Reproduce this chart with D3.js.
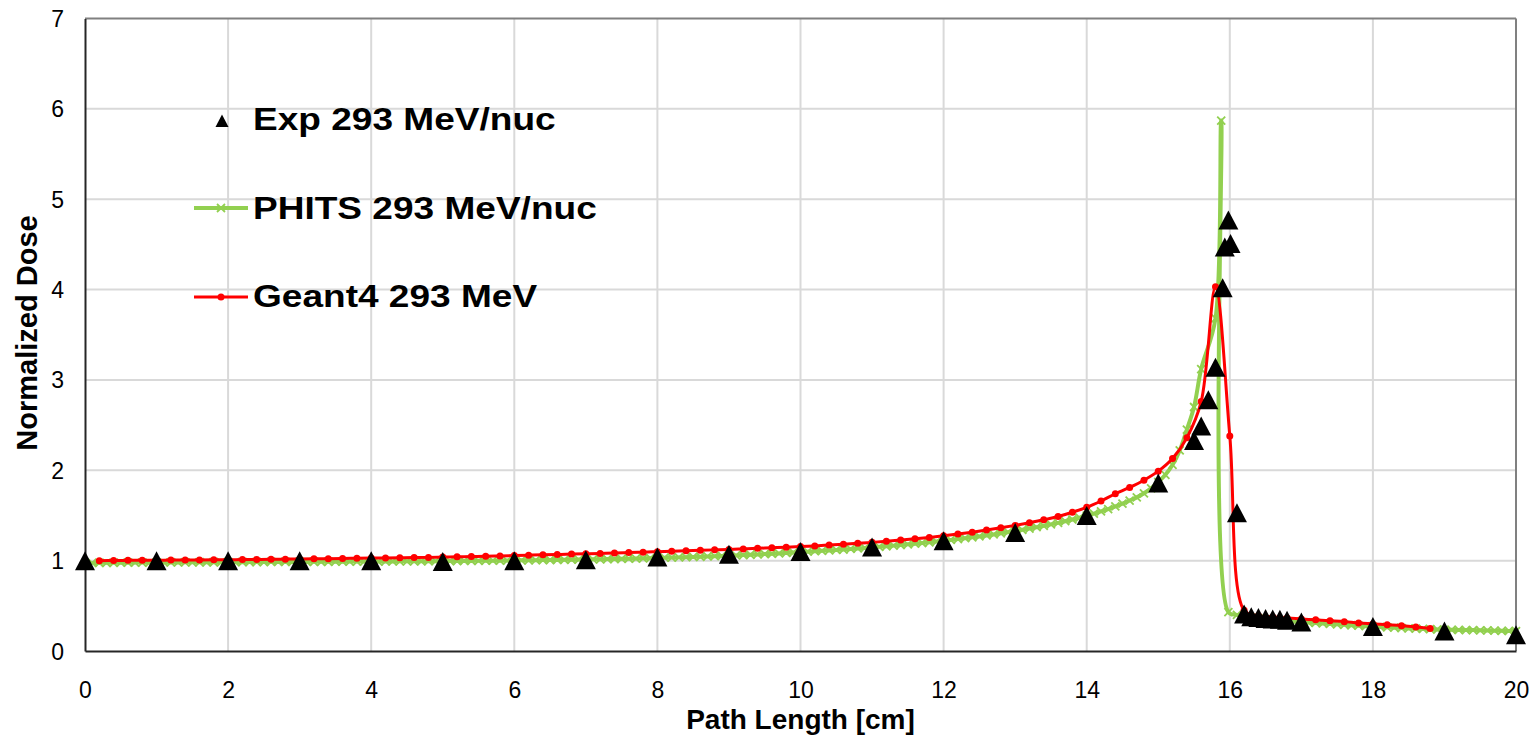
<!DOCTYPE html>
<html><head><meta charset="utf-8">
<script src="https://cdn.jsdelivr.net/npm/d3@7"></script>
<style>
html,body{margin:0;padding:0;background:#fff;}
svg{display:block;font-family:"Liberation Sans",Arial,sans-serif;}
</style></head>
<body><svg id="chart" width="1536" height="736"></svg>
<script>
// ---- data ----
const expX = [0,1,2,3,4,5,6,7,8,9,10,11,12,13,14,15,15.5,15.6,15.7,15.8,15.9,15.93,15.98,16.01,16.1,16.2,16.3,16.4,16.5,16.6,16.7,16.8,17,18,19,20];
const expY = [1.0,1.0,1.0,1.0,1.0,0.99,1.0,1.01,1.04,1.07,1.1,1.15,1.22,1.31,1.5,1.86,2.33,2.49,2.78,3.14,4.02,4.47,4.77,4.51,1.53,0.41,0.38,0.37,0.36,0.355,0.35,0.34,0.32,0.27,0.22,0.18];

const phitsX = [
0.1,0.2,0.3,0.4,0.5,0.6,0.7,0.8,0.9,1.0,
1.1,1.2,1.3,1.4,1.5,1.6,1.7,1.8,1.9,2.0,
2.1,2.2,2.3,2.4,2.5,2.6,2.7,2.8,2.9,3.0,
3.1,3.2,3.3,3.4,3.5,3.6,3.7,3.8,3.9,4.0,
4.1,4.2,4.3,4.4,4.5,4.6,4.7,4.8,4.9,5.0,
5.1,5.2,5.3,5.4,5.5,5.6,5.7,5.8,5.9,6.0,
6.1,6.2,6.3,6.4,6.5,6.6,6.7,6.8,6.9,7.0,
7.1,7.2,7.3,7.4,7.5,7.6,7.7,7.8,7.9,8.0,
8.1,8.2,8.3,8.4,8.5,8.6,8.7,8.8,8.9,9.0,
9.1,9.2,9.3,9.4,9.5,9.6,9.7,9.8,9.9,10.0,
10.1,10.2,10.3,10.4,10.5,10.6,10.7,10.8,10.9,11.0,
11.1,11.2,11.3,11.4,11.5,11.6,11.7,11.8,11.9,12.0,
12.1,12.2,12.3,12.4,12.5,12.6,12.7,12.8,12.9,13.0,
13.1,13.2,13.3,13.4,13.5,13.6,13.7,13.8,13.9,14.0,
14.1,14.2,14.3,14.4,14.5,14.6,14.7,14.8,14.9,15.0,
15.1,15.2,15.3,15.4,15.5,15.6,15.8,15.88,15.98,
16.1,16.2,16.3,16.4,16.5,16.6,16.7,16.8,16.9,17.0,
17.1,17.2,17.3,17.4,17.5,17.6,17.7,17.8,17.9,18.0,
18.1,18.2,18.3,18.4,18.5,18.6,18.7,18.8,18.9,19.0,
19.1,19.2,19.3,19.4,19.5,19.6,19.7,19.8,19.9,20.0];
const phitsY = [
0.975,0.975,0.976,0.976,0.977,0.977,0.978,0.978,0.979,0.979,
0.980,0.980,0.980,0.981,0.981,0.981,0.982,0.982,0.982,0.983,
0.983,0.983,0.984,0.984,0.984,0.985,0.985,0.985,0.986,0.986,
0.986,0.987,0.987,0.987,0.988,0.988,0.989,0.989,0.989,0.990,
0.990,0.991,0.991,0.992,0.992,0.993,0.993,0.994,0.994,0.995,
0.995,0.996,0.997,0.997,0.998,0.999,0.999,1.000,1.001,1.002,
1.003,1.004,1.005,1.006,1.007,1.008,1.009,1.010,1.012,1.013,
1.014,1.015,1.017,1.018,1.020,1.021,1.023,1.025,1.027,1.030,
1.032,1.034,1.036,1.038,1.041,1.043,1.046,1.049,1.052,1.055,
1.058,1.061,1.065,1.068,1.072,1.076,1.080,1.085,1.090,1.095,
1.099,1.104,1.108,1.113,1.118,1.123,1.129,1.135,1.141,1.147,
1.153,1.159,1.166,1.173,1.180,1.187,1.195,1.203,1.211,1.220,
1.229,1.238,1.248,1.258,1.268,1.279,1.290,1.302,1.315,1.328,
1.341,1.355,1.370,1.385,1.401,1.418,1.436,1.455,1.475,1.497,
1.520,1.545,1.570,1.600,1.630,1.665,1.700,1.745,1.800,1.870,
1.95,2.06,2.22,2.45,2.70,3.12,3.68,5.87,0.43,
0.40,0.385,0.37,0.36,0.35,0.34,0.335,0.33,0.325,0.32,
0.315,0.31,0.305,0.30,0.295,0.29,0.285,0.28,0.275,0.27,
0.266,0.262,0.258,0.254,0.25,0.247,0.244,0.241,0.238,0.235,
0.234,0.233,0.232,0.231,0.229,0.227,0.225,0.223,0.222,0.22];

const geantX = [
0.2,0.4,0.6,0.8,1.0,1.2,1.4,1.6,1.8,2.0,
2.2,2.4,2.6,2.8,3.0,3.2,3.4,3.6,3.8,4.0,
4.2,4.4,4.6,4.8,5.0,5.2,5.4,5.6,5.8,6.0,
6.2,6.4,6.6,6.8,7.0,7.2,7.4,7.6,7.8,8.0,
8.2,8.4,8.6,8.8,9.0,9.2,9.4,9.6,9.8,10.0,
10.2,10.4,10.6,10.8,11.0,11.2,11.4,11.6,11.8,12.0,
12.2,12.4,12.6,12.8,13.0,13.2,13.4,13.6,13.8,14.0,
14.2,14.4,14.6,14.8,15.0,15.2,15.4,15.6,15.8,16.0,
16.2,16.4,16.6,16.8,17.0,17.2,17.4,17.6,17.8,18.0,
18.2,18.4,18.6,18.8];
const geantY = [
1.000,1.002,1.003,1.004,1.005,1.006,1.007,1.008,1.009,1.010,
1.012,1.013,1.014,1.016,1.018,1.020,1.022,1.024,1.026,1.028,
1.030,1.032,1.034,1.036,1.039,1.042,1.045,1.048,1.052,1.056,
1.060,1.064,1.068,1.072,1.076,1.080,1.084,1.089,1.094,1.099,
1.104,1.109,1.114,1.119,1.124,1.130,1.136,1.142,1.148,1.155,
1.163,1.172,1.181,1.191,1.202,1.214,1.227,1.241,1.257,1.275,
1.294,1.315,1.338,1.363,1.390,1.420,1.452,1.488,1.535,1.590,
1.66,1.74,1.81,1.89,1.99,2.13,2.36,2.76,4.03,2.38,
0.45,0.39,0.375,0.365,0.355,0.345,0.335,0.325,0.31,0.30,
0.29,0.28,0.265,0.25];

const xTicks = [0,2,4,6,8,10,12,14,16,18,20];
const yTicks = [0,1,2,3,4,5,6,7];
const seriesNames = ["Exp 293 MeV/nuc","PHITS 293 MeV/nuc","Geant4 293 MeV"];
const xTitle = "Path Length [cm]";
const yTitle = "Normalized Dose";

// ---- layout ----
const svg = d3.select("#chart");
const L = 85, R = 1516, T = 18.4, B = 651;
const x = d3.scaleLinear().domain([0,20]).range([L,R]);
const y = d3.scaleLinear().domain([0,7]).range([B,T]);
const GREEN = "#92d050", RED = "#ff0000";
const FONT = '"Liberation Sans",Arial,sans-serif';

// gridlines
svg.append("g").selectAll("line").data(xTicks.filter(d=>d>0 && d<20)).join("line")
  .attr("x1",d=>x(d)).attr("x2",d=>x(d)).attr("y1",T).attr("y2",B)
  .attr("stroke","#d9d9d9").attr("stroke-width",2);
svg.append("g").selectAll("line").data(yTicks.filter(d=>d>0 && d<7)).join("line")
  .attr("x1",L).attr("x2",R).attr("y1",d=>y(d)).attr("y2",d=>y(d))
  .attr("stroke","#d9d9d9").attr("stroke-width",2);

// frame top/right
svg.append("line").attr("x1",L).attr("x2",R).attr("y1",T).attr("y2",T).attr("stroke","#808080").attr("stroke-width",2);
svg.append("line").attr("x1",R).attr("x2",R).attr("y1",T).attr("y2",B).attr("stroke","#808080").attr("stroke-width",2);

// axes
const xAxis = d3.axisBottom(x).tickValues(xTicks).tickSize(0).tickPadding(0).tickFormat(d3.format("d"));
const yAxis = d3.axisLeft(y).tickValues(yTicks).tickSize(0).tickPadding(0).tickFormat(d3.format("d"));
const gx = svg.append("g").attr("transform",`translate(0,${B})`).call(xAxis);
gx.select(".domain").attr("stroke","#262626").attr("stroke-width",2);
gx.selectAll("text").attr("font-size",23).attr("fill","#000").attr("dy",null).attr("y",47)
  .attr("font-family",FONT);
const gy = svg.append("g").attr("transform",`translate(${L},0)`).call(yAxis);
gy.select(".domain").attr("stroke","#262626").attr("stroke-width",2);
gy.selectAll("text").attr("font-size",23).attr("fill","#000").attr("x",-21).attr("dy","0.35em")
  .attr("font-family",FONT);

// titles
svg.append("text").attr("x",(L+R)/2).attr("y",729).attr("text-anchor","middle")
  .attr("font-size",28).attr("font-weight","bold").text(xTitle);
svg.append("text").attr("transform",`translate(37,333) rotate(-90)`).attr("text-anchor","middle")
  .attr("font-size",29).attr("font-weight","bold").text(yTitle);

const plot = svg.append("g");
const curve = d3.curveCatmullRom.alpha(0.5);

// PHITS
const phits = phitsX.map((d,i)=>[d,phitsY[i]]);
plot.append("path").datum(phits)
  .attr("d", d3.line().x(d=>x(d[0])).y(d=>y(d[1])).curve(curve))
  .attr("fill","none").attr("stroke",GREEN).attr("stroke-width",4).attr("stroke-linejoin","round");
const xm = 4;
const xMark = `M${-xm},${-xm}L${xm},${xm}M${-xm},${xm}L${xm},${-xm}`;
plot.append("g").selectAll("path").data(phits).join("path")
  .attr("transform",d=>`translate(${x(d[0])},${y(d[1])})`)
  .attr("d",xMark).attr("stroke",GREEN).attr("stroke-width",1.8).attr("fill","none");

// Geant4
const geant = geantX.map((d,i)=>[d,geantY[i]]);
plot.append("path").datum(geant)
  .attr("d", d3.line().x(d=>x(d[0])).y(d=>y(d[1])).curve(curve))
  .attr("fill","none").attr("stroke",RED).attr("stroke-width",3).attr("stroke-linejoin","round");
plot.append("g").selectAll("circle").data(geant).join("circle")
  .attr("cx",d=>x(d[0])).attr("cy",d=>y(d[1])).attr("r",3.5).attr("fill",RED);

// Exp triangles
const tw = 20, th = 19;
const tri = `M0,${-th/2}L${tw/2},${th/2}L${-tw/2},${th/2}Z`;
plot.append("g").selectAll("path").data(expX.map((d,i)=>[d,expY[i]])).join("path")
  .attr("transform",d=>`translate(${x(d[0])},${y(d[1])})`)
  .attr("d",tri).attr("fill","#000");

// legend
const leg = svg.append("g");
const rows = [130, 219, 307];
leg.append("path").attr("d",`M222,${121-6.5}L228.5,${121+6}L215.5,${121+6}Z`).attr("fill","#000");
leg.append("line").attr("x1",194).attr("x2",248).attr("y1",208).attr("y2",208).attr("stroke",GREEN).attr("stroke-width",4);
leg.append("path").attr("transform","translate(221,208)").attr("d",xMark).attr("stroke",GREEN).attr("stroke-width",1.8);
leg.append("line").attr("x1",194).attr("x2",248).attr("y1",297).attr("y2",297).attr("stroke",RED).attr("stroke-width",3);
leg.append("circle").attr("cx",221).attr("cy",297).attr("r",3.5).attr("fill",RED);
leg.selectAll("text").data(seriesNames).join("text")
  .attr("transform",(d,i)=>`translate(253,${rows[i]}) scale(1.215,1)`)
  .attr("font-size",30.5).attr("font-weight","bold").attr("fill","#000").text(d=>d);
</script></body></html>
